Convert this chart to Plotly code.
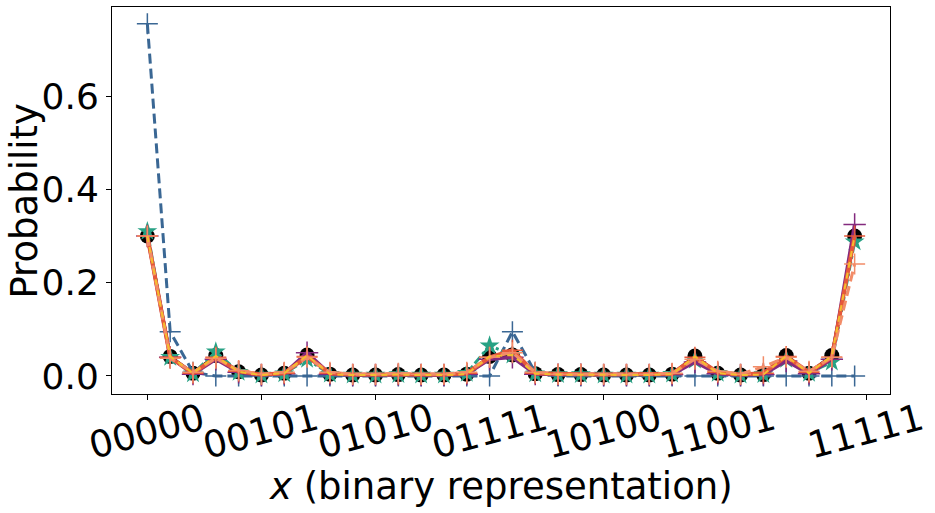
import plotly.graph_objects as go

# basis states 0..31, labelled in binary on the axis
x_idx = list(range(32))
tick_pos = [0, 5, 10, 15, 20, 25, 31.5]
tick_text = ["00000", "00101", "01010", "01111", "10100", "11001", "11111"]

exact = [0.300, 0.042, 0.006, 0.044, 0.009, 0.002, 0.006, 0.045, 0.004, 0.002, 0.002, 0.003,
         0.002, 0.002, 0.004, 0.042, 0.045, 0.005, 0.003, 0.003, 0.002, 0.002, 0.002, 0.004,
         0.043, 0.006, 0.002, 0.003, 0.044, 0.006, 0.044, 0.300]
mean_field = [0.755, 0.095, 0.008, 0.000, 0.000, 0.000, 0.000, 0.000, 0.000, 0.000, 0.000, 0.000,
              0.000, 0.000, 0.000, 0.000, 0.095, 0.008, 0.000, 0.000, 0.000, 0.000, 0.000, 0.000,
              0.000, 0.000, 0.000, 0.000, 0.000, 0.000, 0.000, 0.000]
green = [0.310, 0.040, 0.005, 0.052, 0.008, 0.002, 0.005, 0.036, 0.004, 0.002, 0.002, 0.003,
         0.002, 0.002, 0.006, 0.065, 0.045, 0.005, 0.003, 0.003, 0.002, 0.002, 0.002, 0.004,
         0.034, 0.006, 0.002, 0.003, 0.036, 0.006, 0.030, 0.288]
purple = [0.300, 0.040, 0.004, 0.036, 0.008, 0.002, 0.005, 0.050, 0.004, 0.002, 0.002, 0.003,
          0.002, 0.002, 0.004, 0.036, 0.040, 0.004, 0.003, 0.003, 0.002, 0.002, 0.002, 0.003,
          0.030, 0.005, 0.002, 0.003, 0.032, 0.005, 0.036, 0.325]
red = [0.300, 0.040, 0.006, 0.040, 0.010, 0.003, 0.006, 0.042, 0.006, 0.003, 0.003, 0.004,
       0.003, 0.003, 0.006, 0.040, 0.055, 0.006, 0.004, 0.004, 0.003, 0.003, 0.003, 0.005,
       0.040, 0.008, 0.003, 0.006, 0.042, 0.008, 0.040, 0.300]
salmon = [0.300, 0.038, 0.008, 0.038, 0.012, 0.004, 0.008, 0.040, 0.008, 0.004, 0.004, 0.006,
          0.004, 0.004, 0.008, 0.040, 0.050, 0.008, 0.004, 0.004, 0.004, 0.004, 0.004, 0.006,
          0.036, 0.010, 0.004, 0.020, 0.040, 0.010, 0.040, 0.240]
yellow = [0.300, 0.042, 0.006, 0.043, 0.009, 0.002, 0.006, 0.044, 0.004, 0.002, 0.002, 0.003,
          0.002, 0.002, 0.004, 0.042, 0.045, 0.005, 0.003, 0.003, 0.002, 0.002, 0.002, 0.004,
          0.042, 0.006, 0.002, 0.003, 0.043, 0.006, 0.043, 0.300]

fig = go.Figure()

fig.add_trace(go.Scatter(x=x_idx, y=exact, mode="lines+markers",
                         line=dict(color="black", width=3),
                         marker=dict(symbol="circle", size=15, color="black")))
fig.add_trace(go.Scatter(x=x_idx, y=mean_field, mode="lines+markers",
                         line=dict(color="#3a6794", width=3, dash="10px,5px"),
                         marker=dict(symbol="cross-thin", size=15,
                                     line=dict(color="#3a6794", width=1.5))))
fig.add_trace(go.Scatter(x=x_idx, y=green, mode="lines+markers",
                         line=dict(color="#27a184", width=3, dash="dashdot"),
                         marker=dict(symbol="star", size=15, color="#27a184")))
fig.add_trace(go.Scatter(x=x_idx, y=purple, mode="lines+markers",
                         line=dict(color="#832a7e", width=3.5),
                         marker=dict(symbol="cross-thin", size=16,
                                     line=dict(color="#832a7e", width=1.5))))
fig.add_trace(go.Scatter(x=x_idx, y=red, mode="lines+markers",
                         line=dict(color="#e6583a", width=4),
                         marker=dict(symbol="cross-thin", size=15,
                                     line=dict(color="#e6583a", width=1.5))))
fig.add_trace(go.Scatter(x=x_idx, y=salmon, mode="lines+markers",
                         line=dict(color="#f28c68", width=3, dash="10px,5px"),
                         marker=dict(symbol="cross-thin", size=15,
                                     line=dict(color="#f28c68", width=1.5))))
fig.add_trace(go.Scatter(x=x_idx, y=yellow, mode="lines",
                         line=dict(color="#f5be2e", width=2, dash="6px,5px")))

# rotated binary tick labels, centred under their ticks
for p, t in zip(tick_pos, tick_text):
    fig.add_annotation(x=p, y=-0.098, xref="x", yref="paper", text=t, showarrow=False,
                       textangle=-15, xanchor="center", yanchor="middle",
                       font=dict(size=37, color="black"))

fig.add_annotation(x=0.5, y=-0.24, xref="paper", yref="paper",
                   text="<i>x</i> (binary representation)", showarrow=False,
                   xanchor="center", yanchor="middle", font=dict(size=37, color="black"))
fig.add_annotation(x=-0.113, y=0.5, xref="paper", yref="paper", text="Probability",
                   showarrow=False, textangle=-90, xanchor="center", yanchor="middle",
                   font=dict(size=37, color="black"))

fig.update_xaxes(range=[-1.55, 32.55], tickvals=tick_pos, ticktext=tick_text,
                 showticklabels=False, ticks="outside", ticklen=5, tickcolor="black",
                 showgrid=False, zeroline=False, showline=True, linecolor="black",
                 linewidth=1, mirror=True)
fig.update_yaxes(range=[-0.0386, 0.791], tickvals=[0, 0.2, 0.4, 0.6],
                 ticktext=["0.0", "0.2", "0.4", "0.6"], ticks="outside", ticklen=5,
                 tickcolor="black", showgrid=False, zeroline=False, showline=True,
                 linecolor="black", linewidth=1, mirror=True,
                 tickfont=dict(size=36, color="black"))

fig.update_layout(width=935, height=513, showlegend=False,
                  margin=dict(l=112, r=45, t=7, b=119),
                  plot_bgcolor="white", paper_bgcolor="white",
                  font=dict(family="DejaVu Sans", color="black"))

# drop the page's default body margin so the figure sits at the window corner
fig.write_html("out.html", config={"displayModeBar": False},
               post_script="document.body.style.margin='0';")
